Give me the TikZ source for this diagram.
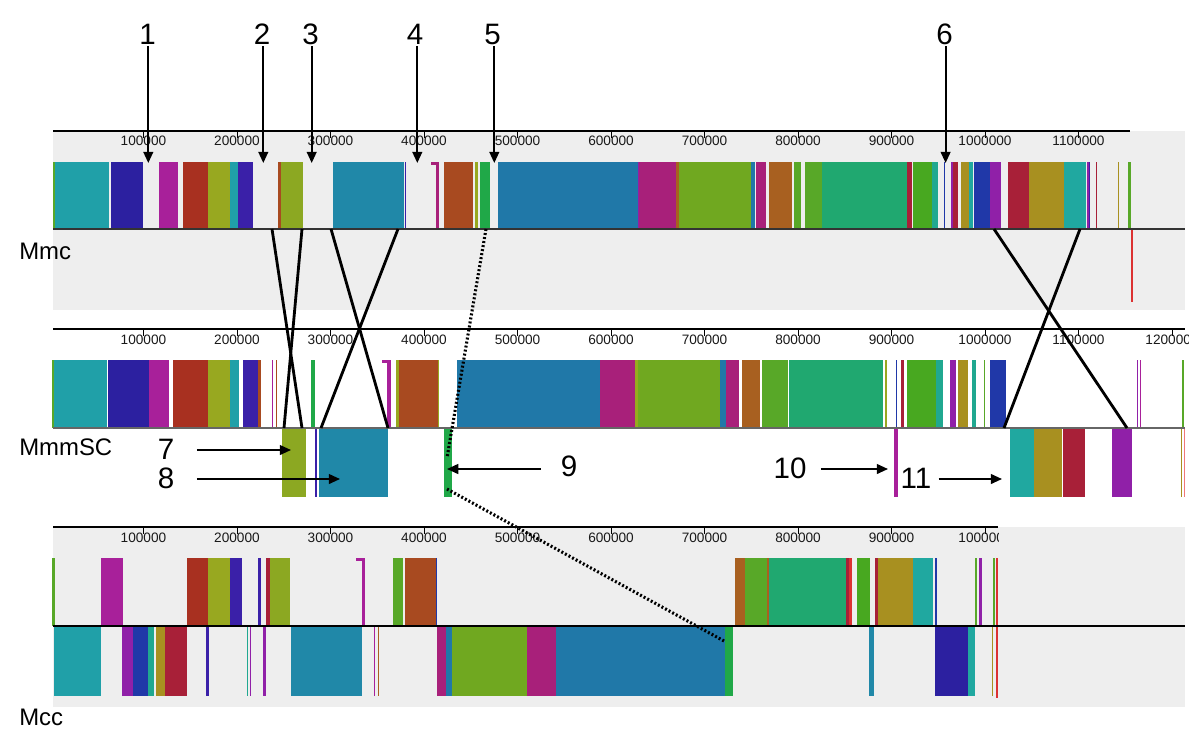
\documentclass[tikz,border=0pt]{standalone}
\usepackage{fontspec}
\setmainfont{Liberation Sans}
\usetikzlibrary{arrows.meta}

\definecolor{bgGray}{RGB}{238,238,238}
\definecolor{cTeal}{RGB}{32,160,168}
\definecolor{cNavy}{RGB}{44,32,160}
\definecolor{cMag}{RGB}{168,32,154}
\definecolor{cRed}{RGB}{168,48,32}
\definecolor{cOlive}{RGB}{152,168,32}
\definecolor{cIndigo}{RGB}{58,32,168}
\definecolor{cOliveB}{RGB}{140,168,34}
\definecolor{cSteel}{RGB}{32,136,168}
\definecolor{cRust}{RGB}{168,74,32}
\definecolor{cGreen}{RGB}{32,168,72}
\definecolor{cBlue}{RGB}{32,120,168}
\definecolor{cRose}{RGB}{168,32,122}
\definecolor{cLime}{RGB}{112,168,32}
\definecolor{cOchre}{RGB}{168,96,32}
\definecolor{cGrass}{RGB}{88,168,40}
\definecolor{cJade}{RGB}{32,168,112}
\definecolor{cLeaf}{RGB}{72,168,32}
\definecolor{cAqua}{RGB}{32,168,144}
\definecolor{cTurq}{RGB}{32,168,160}
\definecolor{cMustard}{RGB}{168,144,32}
\definecolor{cCrimson}{RGB}{168,32,56}
\definecolor{cRoyal}{RGB}{32,56,168}
\definecolor{cPurple}{RGB}{144,32,168}
\definecolor{cScarlet}{RGB}{220,50,50}
\definecolor{cPink}{RGB}{240,120,120}

\tikzset{
  num/.style={font=\fontsize{21}{21}\selectfont, inner sep=1pt},
  genome/.style={font=\fontsize{17}{17}\selectfont, anchor=west, inner sep=0pt},
  ticklab/.style={font=\fontsize{9.7}{10}\selectfont, text=black!90, inner sep=0pt},
  pin/.style={line width=1.3pt, -{Triangle[length=8pt,width=7pt]}},
  cross/.style={line width=2pt},
  dotlink/.style={line width=2.2pt, dash pattern=on 1.4pt off 1.5pt},
}

\begin{document}
\begin{tikzpicture}[x=0.025cm, y=-0.025cm]
\useasboundingbox (0,0) rectangle (1200,744);

% panel backgrounds
\fill[bgGray] (53,131) rectangle (1185,310);
\fill[bgGray] (53,527) rectangle (1185,707);

% rulers
\draw[line width=0.8pt] (53,131) -- (1130,131);
\draw[line width=0.8pt] (53,329) -- (1185,329);
\draw[line width=0.8pt] (53,527) -- (998,527);
\foreach \k in {1,...,11} {
  \draw[line width=0.5pt] ({50+93.5*\k},131) -- ++(0,7);
  \node[ticklab] at ({50+93.5*\k},141) {\k00000};
}
\begin{scope}
  \clip (53,320) rectangle (1188,352);
  \foreach \k in {1,...,12} {
    \draw[line width=0.5pt] ({50+93.5*\k},329) -- ++(0,7);
    \node[ticklab] at ({50+93.5*\k},340) {\k00000};
  }
\end{scope}
\begin{scope}
  \clip (53,518) rectangle (998,550);
  \foreach \k in {1,...,10} {
    \draw[line width=0.5pt] ({50+93.5*\k},527) -- ++(0,7);
    \node[ticklab] at ({50+93.5*\k},538) {\k00000};
  }
\end{scope}

% Mmc blocks
\foreach \a/\b/\c in {53/54.5/cGrass, 54.5/109/cTeal, 111/143/cNavy, 158.5/178/cMag,
    183/208/cRed, 208/230/cOlive, 230/237.7/cTeal, 237.7/253/cIndigo, 278/281/cRust,
    281/303/cOliveB, 333/404/cSteel, 405/406/cIndigo, 436/439/cRose, 444/473.4/cRust,
    474.7/477.5/cOlive, 480/490/cGreen, 497.7/637.5/cBlue, 637.5/639/cPurple,
    639/675.7/cRose, 675.7/678.6/cOchre, 678.6/750.7/cLime, 751.4/755/cBlue,
    756/766/cRose, 768.6/791.8/cOchre, 793.6/800.7/cGrass, 805/822/cGrass,
    822/907/cJade, 907/912/cCrimson, 913/932/cLeaf, 932/938/cAqua, 943.6/945.4/cRoyal,
    950.7/953/cPurple, 953/958/cCrimson, 961/968.6/cMustard, 969/973/cTurq,
    974/990/cRoyal, 990/1001.4/cPurple, 1008/1029/cCrimson, 1029/1064/cMustard,
    1064/1086/cTurq, 1087/1088.5/cPurple, 1089/1090/cIndigo, 1096/1097/cCrimson,
    1118/1119/cMustard, 1127.5/1131/cGrass}
  \fill[\c] (\a,162) rectangle (\b,229);
\fill[cRose] (431,162) rectangle (439,165);
\fill[cScarlet] (1130.5,230) rectangle (1132.5,302);

% MmmSC blocks, upper
\foreach \a/\b/\c in {51.7/53.5/cGrass, 53.5/107.4/cTeal, 108.4/149/cNavy, 149/169/cMag,
    172.7/208/cRed, 208/230/cOlive, 230/239.4/cTeal, 243/258/cIndigo, 258/260.6/cRust,
    272/273/cMag, 276/277/cRust, 310.7/315/cGreen, 387/390.6/cMag, 396/398.6/cOlive,
    398.6/437.5/cRust, 437.5/439/cOlive, 457/599.6/cBlue, 599.6/635/cRose,
    635/638/cOlive, 638/720/cLime, 720/726/cBlue, 726/739/cRose, 742/759.5/cOchre,
    762/788/cGrass, 789/883/cJade, 884.7/886.6/cOlive, 896/897/cRoyal,
    900.8/903.8/cCrimson, 907/936/cLeaf, 936/943/cAqua, 949.7/955.5/cPurple,
    958/968/cMustard, 972/976/cAqua, 984/985/cGrass, 990/1006/cRoyal,
    1136.5/1137.5/cPurple, 1139.5/1140.5/cMag, 1182/1184/cGrass}
  \fill[\c] (\a,360) rectangle (\b,428);
\fill[cMag] (382,360) rectangle (390.6,363);
% MmmSC blocks, lower
\foreach \a/\b/\c in {282/306/cOliveB, 315/316.6/cIndigo, 319/388/cSteel, 443.5/452/cGreen,
    894/898/cMag, 1010/1034/cTurq, 1034/1061.5/cMustard, 1062.6/1084.5/cCrimson,
    1112/1131.5/cPurple, 1180.5/1181.5/cMustard, 1184/1185/cPink}
  \fill[\c] (\a,429) rectangle (\b,497);

% Mcc blocks, upper
\foreach \a/\b/\c in {51.7/55.2/cGrass, 101.4/123/cMag, 187/208/cRed, 208/229.7/cOlive,
    229.7/242/cIndigo, 258/260.6/cIndigo, 266/269.7/cCrimson, 269.7/290/cOliveB,
    362/364.6/cMag, 393.4/402.8/cGrass, 405/435.8/cRust, 435.8/437/cRoyal,
    735/745/cOchre, 745/766.7/cGrass, 766.7/769/cOchre, 769/846/cJade,
    846/849/cCrimson, 849/851.7/cScarlet, 856.7/870/cLeaf, 875/878/cCrimson,
    878/912.7/cMustard, 912.7/932.7/cTurq, 935/936.7/cRoyal, 975/976.7/cGrass,
    979/981.7/cPurple, 993/995/cGrass}
  \fill[\c] (\a,558) rectangle (\b,626);
\fill[cMag] (356,558) rectangle (364.6,561);
% Mcc blocks, lower
\foreach \a/\b/\c in {54/101.4/cTeal, 122/132.7/cPurple, 132.7/148/cRoyal, 148/154/cAqua,
    156/164.7/cMustard, 164.7/186.6/cCrimson, 206.4/208.5/cIndigo, 247/248.2/cAqua,
    249.5/250.5/cPurple, 262.7/266/cPurple, 290.5/361.8/cSteel, 374/375/cMag,
    377.5/378.5/cOchre, 436.5/446/cRose, 446/451.5/cBlue, 451.5/527/cLime,
    527/555.7/cRose, 555.7/725/cBlue, 725/733.3/cGreen, 868.7/874/cSteel,
    935/968/cNavy, 968/975/cTurq, 991.7/993/cMustard}
  \fill[\c] (\a,627) rectangle (\b,696);
\fill[cScarlet] (996,558) rectangle (997.5,698);

% centre lines
\draw[line width=1.4pt, black!80] (53,229) -- (1185,229);
\draw[line width=1.4pt, black!60] (53,428) -- (1185,428);
\draw[line width=1.4pt, black] (53,626) -- (1185,626);

% genome names
\node[genome] (mmc) at (19,251) {Mmc};
\node[genome] (mmmsc) at (19,447) {MmmSC};
\node[genome] (mcc) at (19,717) {Mcc};

% rearranged blocks
\coordinate (mmcOl1) at (272,229);
\coordinate (mmcOl2) at (302,229);
\coordinate (scOl1) at (302,428);
\coordinate (scOl2) at (284,428);
\coordinate (mmcSt1) at (331,229);
\coordinate (mmcSt2) at (398,229);
\coordinate (scSt1) at (388,428);
\coordinate (scSt2) at (321,428);
\coordinate (mmcEnd1) at (994,229);
\coordinate (mmcEnd2) at (1080,229);
\coordinate (scEnd1) at (1127,428);
\coordinate (scEnd2) at (1004,428);
\draw[cross] (mmcOl1) -- (scOl1);
\draw[cross] (mmcOl2) -- (scOl2);
\draw[cross] (mmcSt1) -- (scSt1);
\draw[cross] (mmcSt2) -- (scSt2);
\draw[cross] (mmcEnd1) -- (scEnd1);
\draw[cross] (mmcEnd2) -- (scEnd2);

% moved green block
\coordinate (mmcGr) at (486,229);
\coordinate (scGr1) at (447,458);
\coordinate (scGr2) at (447,489);
\coordinate (mccGr) at (724,641);
\draw[dotlink] (mmcGr) -- (scGr1);
\draw[dotlink] (scGr2) -- (mccGr);

% numbered marks on Mmc
\node[num] (n1) at (147.5,34) {1};
\node[num] (n2) at (262,34) {2};
\node[num] (n3) at (310.5,34) {3};
\node[num] (n4) at (415,34) {4};
\node[num] (n5) at (492.5,34) {5};
\node[num] (n6) at (944.5,34) {6};
\coordinate (t1) at (148.3,163);
\coordinate (t2) at (263.3,163);
\coordinate (t3) at (311.7,163);
\coordinate (t4) at (417.3,163);
\coordinate (t5) at (494.3,163);
\coordinate (t6) at (945.6,163);
\foreach \i in {1,...,6}
  \draw[pin] (n\i.south -| t\i) -- (t\i);

% numbered marks on MmmSC
\node[num] (n7) at (166,449) {7};
\node[num] (n8) at (166,478) {8};
\node[num] (n9) at (569,466) {9};
\node[num] (n10) at (790,468) {10};
\node[num] (n11) at (916,478) {11};
\coordinate (p7) at (291,450);
\coordinate (p8) at (340,479);
\coordinate (p9) at (447,469);
\coordinate (p10) at (888,469);
\coordinate (p11) at (1002,479);
\draw[pin, shorten <=15pt] (n7.east |- p7) -- (p7);
\draw[pin, shorten <=15pt] (n8.east |- p8) -- (p8);
\draw[pin, shorten <=13pt] (n9.west |- p9) -- (p9);
\draw[pin, shorten <=9pt] (n10.east |- p10) -- (p10);
\draw[pin, shorten <=4pt] (n11.east |- p11) -- (p11);
\end{tikzpicture}
\end{document}
